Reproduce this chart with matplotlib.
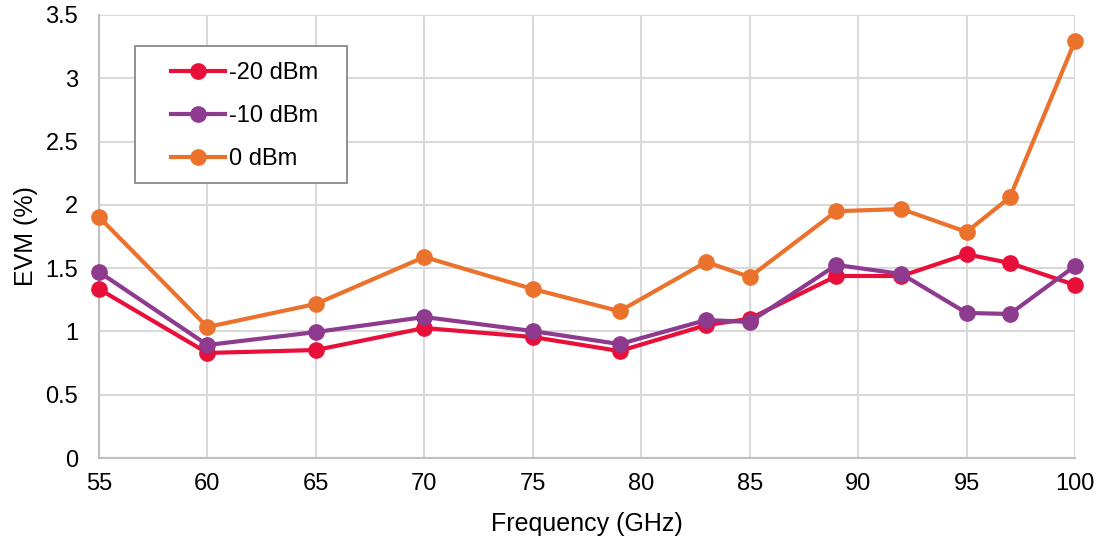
import matplotlib.pyplot as plt
from matplotlib.patches import Rectangle

plt.rcParams['font.family'] = ['Liberation Sans', 'DejaVu Sans']

freq = [55, 60, 65, 70, 75, 79, 83, 85, 89, 92, 95, 97, 100]
evm_m20 = [1.335, 0.83, 0.853, 1.027, 0.956, 0.845, 1.05, 1.10, 1.438, 1.438, 1.61, 1.54, 1.367]
evm_m10 = [1.47, 0.893, 0.995, 1.114, 1.003, 0.90, 1.09, 1.075, 1.525, 1.454, 1.146, 1.138, 1.517]
evm_0 = [1.904, 1.035, 1.217, 1.588, 1.335, 1.16, 1.549, 1.43, 1.95, 1.967, 1.786, 2.06, 3.295]

series = [
    ('-20 dBm', evm_m20, '#E8103A'),
    ('-10 dBm', evm_m10, '#8E3A8E'),
    ('0 dBm', evm_0, '#EB722C'),
]

fig = plt.figure(figsize=(11.02, 5.41), dpi=100)
ax = fig.add_axes([0.0898, 0.1534, 0.8857, 0.8189])

for label, ys, color in series:
    ax.plot(freq, ys, color=color, lw=3, marker='o', markersize=11, label=label, clip_on=False, zorder=3)

ax.set_xlim(55, 100)
ax.set_ylim(0, 3.5)
ax.set_xticks(range(55, 101, 5))
ax.set_yticks([0, 0.5, 1, 1.5, 2, 2.5, 3, 3.5])
ax.set_yticklabels(['0', '0.5', '1', '1.5', '2', '2.5', '3', '3.5'])
ax.grid(True, color='#D9D9D9', lw=1.5)
ax.set_axisbelow(True)
for s in ax.spines.values():
    s.set_visible(False)
for side in ('left', 'bottom'):
    ax.spines[side].set_visible(True)
    ax.spines[side].set_color('#BFBFBF')
    ax.spines[side].set_linewidth(1.5)
ax.tick_params(length=0, labelsize=17, colors='#000000')
ax.tick_params(axis='x', pad=11)
ax.tick_params(axis='y', pad=15)

ax.set_xlabel('Frequency (GHz)', fontsize=18, labelpad=12)
ax.set_ylabel('EVM (%)', fontsize=18, labelpad=5)

# legend box drawn separately (wider padding on the left than matplotlib gives)
ax.add_patch(Rectangle((0.0369, 0.621), 0.217, 0.309, transform=ax.transAxes,
                       facecolor='white', edgecolor='#7F7F7F', lw=1.2, zorder=4))
leg = ax.legend(loc='upper left', bbox_to_anchor=(0.0738, 0.894), fontsize=17, frameon=False,
                borderpad=0, labelspacing=0.90, handlelength=2.3, handletextpad=0.15,
                borderaxespad=0)
leg.set_zorder(5)

fig.savefig('out.png', dpi=100)
